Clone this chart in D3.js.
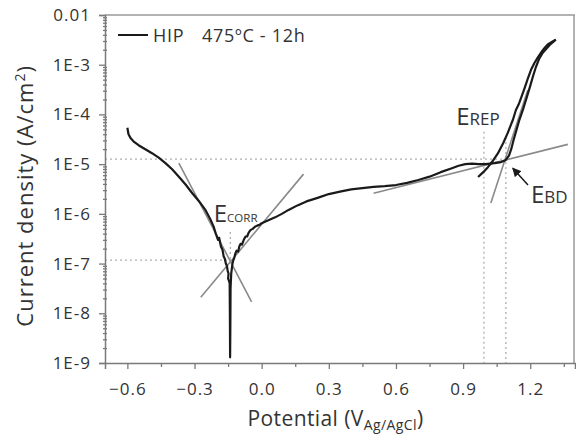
<!DOCTYPE html>
<html lang="en">
<head>
    <meta charset="UTF-8">
    <script src="https://d3js.org/d3.v7.min.js"></script>
    <style>
        body { margin: 0; background: #fff; }
        text { font-family: "Open Sans", sans-serif; fill: #333; }
    </style>
</head>
<body>
<div id="chart"></div>
<script>
    // forward scan: potential (V Ag/AgCl) and current density (A/cm2)
    var fwdV = [-0.600, -0.595, -0.585, -0.570, -0.550, -0.520, -0.490, -0.460, -0.430, -0.400,
        -0.370, -0.340, -0.310, -0.280, -0.250, -0.230, -0.215, -0.205, -0.195, -0.190,
        -0.182, -0.175, -0.170, -0.165, -0.160, -0.155, -0.152, -0.148, -0.150, -0.146,
        -0.143, -0.142, -0.141, -0.140, -0.139, -0.136, -0.132, -0.128, -0.122, -0.118,
        -0.112, -0.105, -0.100, -0.094, -0.088, -0.080, -0.072, -0.065, -0.058, -0.050,
        -0.040, -0.030, -0.020, -0.010, 0.000, 0.030, 0.060, 0.090, 0.120, 0.160,
        0.200, 0.250, 0.300, 0.350, 0.400, 0.450, 0.500, 0.550, 0.600, 0.650,
        0.700, 0.750, 0.800, 0.850, 0.880, 0.910, 0.940, 0.970, 1.000, 1.040,
        1.070, 1.090, 1.105, 1.115, 1.125, 1.135, 1.150, 1.167, 1.183, 1.198,
        1.212, 1.225, 1.240, 1.256, 1.272, 1.287, 1.300, 1.314];
    var fwdJ = [5.4e-5, 4.0e-5, 3.3e-5, 2.8e-5, 2.4e-5, 2.0e-5, 1.66e-5, 1.35e-5, 1.05e-5, 7.9e-6,
        5.6e-6, 3.9e-6, 2.6e-6, 1.8e-6, 1.17e-6, 7.9e-7, 5.6e-7, 4.0e-7, 3.0e-7, 3.3e-7,
        2.2e-7, 1.9e-7, 1.4e-7, 1.26e-7, 1.0e-7, 8.9e-8, 7.1e-8, 6.3e-8, 5.0e-8, 4.5e-8,
        4.0e-8, 1.0e-8, 1.3e-9, 5.0e-9, 3.2e-8, 6.3e-8, 8.9e-8, 1.12e-7, 1.32e-7, 1.58e-7,
        1.82e-7, 1.74e-7, 2.2e-7, 2.5e-7, 2.4e-7, 3.0e-7, 3.5e-7, 3.5e-7, 4.2e-7, 4.7e-7,
        5.0e-7, 5.5e-7, 5.8e-7, 6.0e-7, 6.5e-7, 7.4e-7, 8.5e-7, 1.0e-6, 1.2e-6, 1.48e-6,
        1.78e-6, 2.1e-6, 2.5e-6, 2.8e-6, 3.1e-6, 3.3e-6, 3.5e-6, 3.6e-6, 3.8e-6, 4.2e-6,
        4.8e-6, 5.6e-6, 6.9e-6, 8.3e-6, 9.3e-6, 1.0e-5, 1.02e-5, 1.0e-5, 1.0e-5, 1.05e-5,
        1.1e-5, 1.2e-5, 1.48e-5, 2.0e-5, 3.0e-5, 4.3e-5, 7.4e-5, 1.23e-4, 2.1e-4, 3.5e-4,
        5.8e-4, 8.9e-4, 1.32e-3, 1.74e-3, 2.1e-3, 2.5e-3, 2.8e-3, 3.2e-3];

    // reverse scan
    var revV = [1.314, 1.300, 1.280, 1.265, 1.250, 1.234, 1.218, 1.203, 1.190, 1.176,
        1.160, 1.148, 1.136, 1.123, 1.110, 1.100, 1.080, 1.056, 1.035, 1.011, 0.990, 0.967];
    var revJ = [3.2e-3, 2.95e-3, 2.6e-3, 2.2e-3, 1.8e-3, 1.4e-3, 1.07e-3, 7.8e-4, 5.4e-4, 3.5e-4,
        2.2e-4, 1.58e-4, 1.23e-4, 7.9e-5, 5.6e-5, 4.3e-5, 2.7e-5, 1.66e-5, 1.2e-5, 8.7e-6, 6.9e-6, 5.5e-6];

    // tangent (Tafel / extrapolation) lines, pairs of [V, j]
    var tangents = [
        [[-0.370, 1.05e-5], [-0.045, 1.7e-8]],
        [[-0.272, 2.1e-8], [0.187, 6.3e-6]],
        [[0.500, 2.6e-6], [1.368, 2.5e-5]],
        [[1.024, 1.66e-6], [1.189, 3.1e-4]]
    ];

    // characteristic points
    var eCorr = [-0.140, 1.17e-7];
    var eRep = [0.993, 1.26e-5];
    var eBd = [1.091, 1.26e-5];

    var xTicks = [-0.6, -0.3, 0.0, 0.3, 0.6, 0.9, 1.2];
    var xMinor = [-0.45, -0.15, 0.15, 0.45, 0.75, 1.05, 1.35];
    var yTicks = [1e-9, 1e-8, 1e-7, 1e-6, 1e-5, 1e-4, 1e-3, 1e-2];
    var yLabels = ["1E-9", "1E-8", "1E-7", "1E-6", "1E-5", "1E-4", "1E-3", "0.01"];

    var width = 576, height = 436;
    var margin = {top: 15, right: 1, bottom: 73, left: 105};

    var svg = d3.select("#chart").append("svg")
        .attr("width", width)
        .attr("height", height);

    var x = d3.scaleLinear().domain([-0.7, 1.4]).range([margin.left, width - margin.right]);
    var y = d3.scaleLog().domain([1e-9, 1e-2]).range([height - margin.bottom, margin.top]);

    var axisColor = "#7a7a7a";

    // frame top / right
    svg.append("line")
        .attr("x1", x(-0.7)).attr("x2", x(1.4))
        .attr("y1", y(1e-2)).attr("y2", y(1e-2))
        .attr("stroke", "#999").attr("stroke-width", 1.5);
    svg.append("line")
        .attr("x1", x(1.4) - 1).attr("x2", x(1.4) - 1)
        .attr("y1", y(1e-2)).attr("y2", y(1e-9))
        .attr("stroke", "#999").attr("stroke-width", 1.5);

    // dotted guide lines
    var guides = svg.append("g")
        .attr("stroke", "#b0b0b0")
        .attr("stroke-width", 1.3)
        .attr("stroke-dasharray", "2,3")
        .attr("fill", "none");
    guides.append("line")
        .attr("x1", x(-0.7)).attr("x2", x(eBd[0]) + 2)
        .attr("y1", y(eBd[1])).attr("y2", y(eBd[1]));
    guides.append("line")
        .attr("x1", x(-0.7)).attr("x2", x(eCorr[0]))
        .attr("y1", y(eCorr[1])).attr("y2", y(eCorr[1]));
    guides.append("line")
        .attr("x1", x(eCorr[0])).attr("x2", x(eCorr[0]))
        .attr("y1", y(4.3e-7)).attr("y2", y(eCorr[1]));
    guides.append("line")
        .attr("x1", x(eRep[0])).attr("x2", x(eRep[0]))
        .attr("y1", y(4.5e-5)).attr("y2", y(1e-9));
    guides.append("line")
        .attr("x1", x(eBd[0])).attr("x2", x(eBd[0]))
        .attr("y1", y(3.5e-5)).attr("y2", y(1e-9));

    // tangent lines
    svg.append("g").selectAll("line")
        .data(tangents)
        .enter()
        .append("line")
        .attr("x1", function (d) { return x(d[0][0]); })
        .attr("y1", function (d) { return y(d[0][1]); })
        .attr("x2", function (d) { return x(d[1][0]); })
        .attr("y2", function (d) { return y(d[1][1]); })
        .attr("stroke", "#8a8a8a")
        .attr("stroke-width", 1.6);

    // polarization curve
    var line = d3.line()
        .x(function (d) { return x(d[0]); })
        .y(function (d) { return y(d[1]); });

    var fwd = fwdV.map(function (v, i) { return [v, fwdJ[i]]; });
    var rev = revV.map(function (v, i) { return [v, revJ[i]]; });

    svg.append("path")
        .datum(fwd)
        .attr("d", line)
        .attr("fill", "none")
        .attr("stroke", "#1a1a1a")
        .attr("stroke-width", 2.2)
        .attr("stroke-linejoin", "round");
    svg.append("path")
        .datum(rev)
        .attr("d", line)
        .attr("fill", "none")
        .attr("stroke", "#1a1a1a")
        .attr("stroke-width", 2.2)
        .attr("stroke-linejoin", "round");

    // axes
    svg.append("g")
        .attr("transform", "translate(0," + y(1e-9) + ")")
        .call(d3.axisBottom(x).tickValues(xTicks).tickSize(6).tickPadding(14)
            .tickFormat(d3.format(".1f")));
    svg.append("g")
        .attr("transform", "translate(0," + y(1e-9) + ")")
        .call(d3.axisBottom(x).tickValues(xMinor).tickSize(4).tickFormat(""))
        .select(".domain").remove();

    svg.append("g")
        .attr("transform", "translate(" + x(-0.7) + ",0)")
        .call(d3.axisLeft(y).tickValues(yTicks).tickSize(6).tickPadding(8)
            .tickFormat(function (d, i) { return yLabels[i]; }));

    var yMinor = [];
    yTicks.slice(0, -1).forEach(function (t) {
        for (var k = 2; k < 10; k++) yMinor.push(t * k);
    });
    svg.append("g")
        .attr("transform", "translate(" + (x(-0.7) + 2) + ",0)")
        .call(d3.axisLeft(y).tickValues(yMinor).tickSize(4).tickFormat(""))
        .select(".domain").remove();

    svg.selectAll(".domain").attr("stroke", axisColor).attr("stroke-width", 1.5);
    svg.selectAll(".tick line").attr("stroke", axisColor).attr("stroke-width", 1.3);
    svg.selectAll(".tick text")
        .style("font-family", "'Open Sans', sans-serif")
        .style("font-size", "17px")
        .style("letter-spacing", "1px")
        .attr("fill", "#333");

    // axis titles
    var xt = svg.append("text")
        .attr("x", x(0.33))
        .attr("y", 426)
        .attr("text-anchor", "middle")
        .style("font-size", "21px")
        .style("letter-spacing", "0.4px");
    xt.append("tspan").text("Potential (V");
    xt.append("tspan").attr("dy", 4).style("font-size", "14px").text("Ag/AgCl");
    xt.append("tspan").attr("dy", -4).text(")");

    var yt = svg.append("text")
        .attr("transform", "translate(33," + y(2.3e-6) + ") rotate(-90)")
        .attr("text-anchor", "middle")
        .style("font-size", "22px")
        .style("letter-spacing", "1px");
    yt.append("tspan").text("Current density (A/cm");
    yt.append("tspan").attr("dy", -8).style("font-size", "14px").text("2");
    yt.append("tspan").attr("dy", 8).text(")");

    // legend
    svg.append("line")
        .attr("x1", 118).attr("x2", 148)
        .attr("y1", 35).attr("y2", 35)
        .attr("stroke", "#1a1a1a").attr("stroke-width", 2);
    svg.append("text").attr("x", 153).attr("y", 42)
        .style("font-size", "18px").style("letter-spacing", "0.7px").text("HIP");
    svg.append("text").attr("x", 202).attr("y", 42)
        .style("font-size", "18px").style("letter-spacing", "0.7px").text("475ºC - 12h");

    // annotations
    function label(pos, main, sub, mainSize, subSize) {
        var t = svg.append("text")
            .attr("x", x(pos[0]))
            .attr("y", y(pos[1]))
            .style("font-size", mainSize + "px");
        t.append("tspan").text(main);
        t.append("tspan").style("font-size", subSize + "px").text(sub);
    }
    label([-0.214, 6.8e-7], "E", "CORR", 24, 11.5);
    label([0.869, 6.2e-5], "E", "REP", 24, 17);
    label([1.203, 1.66e-6], "E", "BD", 24, 17);

    // arrow to breakdown point
    svg.append("defs").append("marker")
        .attr("id", "head")
        .attr("viewBox", "0 0 10 10")
        .attr("refX", 9).attr("refY", 5)
        .attr("markerWidth", 6).attr("markerHeight", 6)
        .attr("orient", "auto")
        .append("path")
        .attr("d", "M0,0 L10,5 L0,10 z")
        .attr("fill", "#1a1a1a");
    svg.append("line")
        .attr("x1", x(1.19)).attr("y1", y(3.8e-6))
        .attr("x2", x(1.122)).attr("y2", y(8.3e-6))
        .attr("stroke", "#1a1a1a").attr("stroke-width", 1.5)
        .attr("marker-end", "url(#head)");
</script>
</body>
</html>
